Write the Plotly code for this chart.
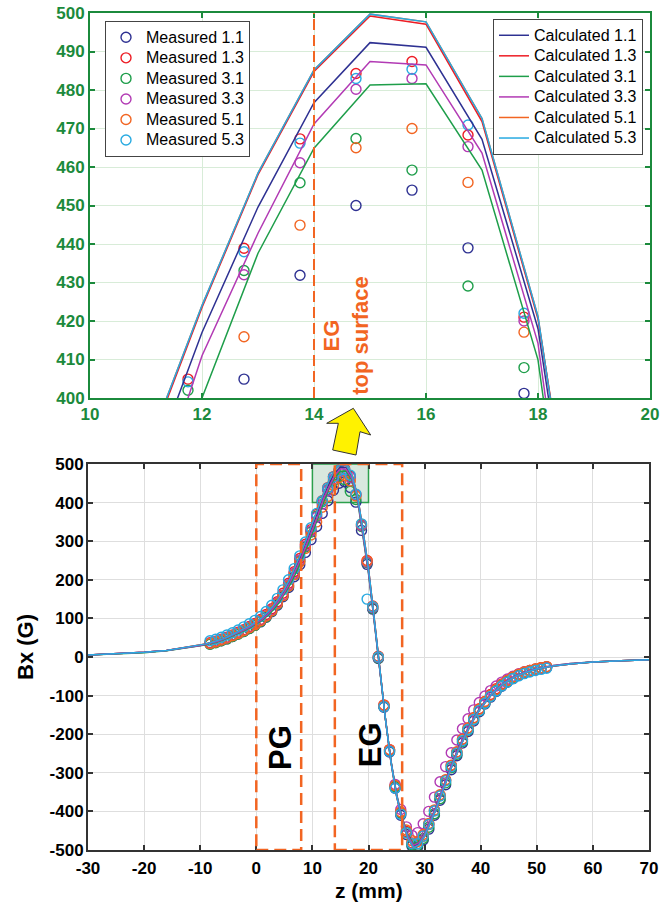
import plotly.graph_objects as go

# ---------------- data ----------------
series_names = ["1.1", "1.3", "3.1", "3.3", "5.1", "5.3"]
meas_colors = ["#2e3192", "#ed1c24", "#1e9e4a", "#b23ab4", "#f26522", "#27aae1"]
calc_colors = ["#2e3192", "#ed1c24", "#1e9e4a", "#b23ab4", "#f26522", "#27aae1"]

z_meas = [-8.25, -7.25, -6.25, -5.25, -4.25, -3.25, -2.25, -1.25, -0.25, 0.75,
          1.75, 2.75, 3.75, 4.75, 5.75, 6.75, 7.75, 8.75, 9.75, 10.75,
          11.75, 12.75, 13.75, 14.75, 15.75, 16.75, 17.75, 18.75, 19.75, 20.75,
          21.75, 22.75, 23.75, 24.75, 25.75, 26.75, 27.75, 28.75, 29.75, 30.75,
          31.75, 32.75, 33.75, 34.75, 35.75, 36.75, 37.75, 38.75, 39.75, 40.75,
          41.75, 42.75, 43.75, 44.75, 45.75, 46.75, 47.75, 48.75, 49.75, 50.75,
          51.75]

meas_11 = [34, 38, 42, 47, 53, 60, 66, 74, 82, 91, 103, 117, 134, 156, 180, 208, 239, 271, 304, 338,
           372, 404.9, 431.9, 450.0, 454.0, 439.0, 401.2,
           328, 240, 124, -4, -130, -246, -340, -410, -460, -490, -492, -474, -446, -410, -371, -331,
           -292, -256, -223, -193, -166, -142, -122, -104, -89, -76, -65, -56, -48, -42, -37, -33, -30, -27]
meas_13 = [37, 41, 46, 51, 57, 64, 71, 79, 87, 97, 110, 125, 143, 165, 191, 221, 255, 292, 330, 369,
           404.9, 438.9, 467.3, 484.3, 487.4, 468.3, 421.0,
           342, 250, 132, 2, -124, -240, -334, -403, -452, -482, -484, -464, -434, -398, -359, -319,
           -281, -246, -213, -184, -157, -134, -115, -97, -82, -70, -60, -51, -44, -39, -35, -31, -28, -25]
meas_31 = [33, 37, 42, 47, 53, 59, 66, 74, 82, 92, 104, 119, 137, 159, 184, 214, 248, 285, 324, 365,
           402.0, 433.1, 455.9, 467.4, 459.2, 429.1, 407.9,
           338, 244, 126, -3, -128, -243, -336, -405, -455, -486, -488, -470, -441, -406, -367, -326,
           -287, -252, -219, -189, -162, -139, -119, -101, -86, -73, -63, -54, -46, -40, -36, -32, -29, -26]
meas_33 = [36, 40, 45, 50, 56, 62, 69, 77, 85, 95, 107, 122, 140, 161, 187, 217, 251, 288, 326, 362,
           396, 432.0, 461.1, 480.2, 483.0, 465.3, 420.0,
           340, 246, 128, -1, -127, -241, -330, -395, -440, -462, -455, -432, -400, -363, -323, -284,
           -248, -215, -186, -160, -137, -118, -101, -87, -75, -65, -57, -50, -44, -39, -35, -32, -29, -26]
meas_51 = [35, 39, 44, 49, 55, 61, 68, 76, 84, 94, 106, 120, 138, 159, 184, 213, 246, 281, 316, 350,
           388, 415.9, 444.9, 465.0, 470.0, 456.0, 417.1,
           344, 249, 131, 1, -125, -240, -333, -401, -448, -476, -478, -460, -431, -396, -357, -318,
           -280, -246, -213, -184, -158, -135, -116, -99, -84, -71, -61, -52, -45, -39, -35, -31, -28, -25]
meas_53 = [42, 46, 51, 57, 63, 70, 78, 86, 95, 105, 118, 134, 152, 174, 200, 229, 262, 298, 335, 372,
           404.2, 438.0, 466.2, 483.0, 485.4, 470.9, 422.0,
           345, 150, 130, 0, -129, -245, -340, -407, -455, -484, -484, -464, -434, -399, -360, -321,
           -284, -249, -217, -188, -162, -139, -120, -102, -88, -75, -65, -56, -49, -43, -39, -35, -32, -29]

z_calc = [-30, -25, -20, -16, -13,
          -10, -9, -8, -7, -6, -5, -4, -3, -2, -1, 0, 1, 2, 3, 4, 5, 6, 7, 8, 9, 10,
          11, 12, 13, 14, 15, 16, 17, 18, 19, 20, 21, 22, 23, 24, 25, 26, 27, 28, 29, 30,
          31, 32, 33, 34, 35, 36, 37, 38, 39, 40,
          42, 44, 46, 48, 50, 53, 56, 60, 65, 70]

calc_11 = [5, 8, 12, 17, 23,
           30, 33, 37, 41, 46, 52, 58, 65, 72, 80, 88, 99, 112, 128, 147, 170, 197, 228, 263, 300, 339,
           378, 417, 449.6, 476.7, 492.3, 491.1, 467.2, 418, 322, 222, 98, -32, -158, -270, -357, -420, -465, -490, -483, -460,
           -428, -392, -352, -312, -275, -240, -208, -180, -154, -131,
           -95, -69, -51, -39, -31, -23, -18, -13, -10, -7]
calc_13 = [5, 8, 12, 17, 24,
           31, 34, 38, 42, 47, 53, 60, 67, 74, 82, 91, 102, 116, 132, 152, 175, 203, 235, 270, 308, 347,
           385.5, 423.5, 458.0, 484.8, 499.2, 497.1, 471.8, 420.5, 329, 228, 102, -30, -158, -272, -360, -424, -469, -494, -487, -464,
           -432, -396, -356, -316, -278, -243, -211, -182, -156, -133,
           -96, -70, -52, -40, -31, -23, -18, -13, -10, -7]
calc_31 = [5, 8, 11, 16, 22,
           29, 32, 35, 39, 44, 50, 56, 62, 69, 77, 85, 95, 107, 122, 140, 162, 187, 216, 249, 284, 321,
           358, 400, 437.6, 464.9, 481.3, 481.6, 459.2, 409.9, 314, 216, 94, -34, -158, -268, -354, -416, -460, -485, -479, -456,
           -425, -389, -349, -309, -272, -237, -205, -177, -152, -129,
           -94, -68, -50, -38, -30, -22, -17, -13, -10, -7]
calc_33 = [5, 8, 12, 17, 23,
           30, 33, 36, 40, 45, 51, 57, 64, 71, 79, 87, 97, 110, 126, 145, 167, 193, 223, 257, 293, 331,
           367, 411, 442.8, 471.2, 487.4, 486.5, 463.6, 414.2, 318, 219, 96, -33, -158, -269, -356, -418, -463, -488, -481, -458,
           -426, -390, -350, -310, -273, -238, -206, -178, -153, -130,
           -94, -68, -50, -38, -30, -22, -17, -13, -10, -7]
calc_51 = [5, 8, 12, 17, 24,
           31, 34, 38, 42, 47, 53, 60, 67, 74, 82, 91, 102, 116, 132, 152, 175, 203, 235, 270, 308, 347,
           386, 424, 458.4, 485.2, 499.7, 497.7, 472.6, 421.1, 330, 229, 103, -30, -158, -272, -360, -424, -469, -494, -487, -464,
           -432, -396, -356, -316, -278, -243, -211, -182, -156, -133,
           -96, -70, -52, -40, -31, -23, -18, -13, -10, -7]
calc_53 = [5, 8, 12, 17, 24,
           31, 34, 38, 42, 47, 53, 60, 67, 74, 82, 91, 102, 116, 132, 152, 175, 203, 235, 270, 308, 347,
           386, 424, 458.4, 485.2, 499.7, 497.7, 472.6, 421.1, 330, 229, 103, -30, -158, -272, -360, -424, -469, -494, -487, -464,
           -432, -396, -356, -316, -278, -243, -211, -182, -156, -133,
           -96, -70, -52, -40, -31, -23, -18, -13, -10, -7]

top_x_ticks = [10, 12, 14, 16, 18, 20]
top_y_ticks = [400, 410, 420, 430, 440, 450, 460, 470, 480, 490, 500]
bot_x_ticks = [-30, -20, -10, 0, 10, 20, 30, 40, 50, 60, 70]
bot_y_ticks = [-500, -400, -300, -200, -100, 0, 100, 200, 300, 400, 500]

meas_all = [meas_11, meas_13, meas_31, meas_33, meas_51, meas_53]
calc_all = [calc_11, calc_13, calc_31, calc_33, calc_51, calc_53]

# ---------------- figure ----------------
W, H = 668, 902
ML, MR, MT, MB = 88, 18, 13, 52
PW, PH = W - ML - MR, H - MT - MB

def px2paper(px, py):
    return (px - ML) / PW, (H - MB - py) / PH

def bold(vals):
    return ["<b>%s</b>" % v for v in vals]

def big(txt):
    return "<span style='font-size:16px'>%s</span>" % txt

FONT = "Liberation Sans, Arial, sans-serif"
GREEN = "#1b8a3c"
ORANGE = "#f26522"

fig = go.Figure()

for i, nm in enumerate(series_names):
    for ax, ay, show in (("x2", "y2", True), ("x", "y", False)):
        fig.add_trace(go.Scatter(
            x=z_meas, y=meas_all[i], mode="markers", name=big("Measured " + nm),
            xaxis=ax, yaxis=ay, showlegend=show, legend="legend",
            marker=dict(symbol="circle-open", size=10, color=meas_colors[i],
                        line=dict(width=1.4, color=meas_colors[i]))))

draw_order = [4, 0, 1, 2, 3, 5]
for i in draw_order:
    nm = series_names[i]
    for ax, ay, show in (("x2", "y2", True), ("x", "y", False)):
        fig.add_trace(go.Scatter(
            x=z_calc, y=calc_all[i], mode="lines", name=big("Calculated " + nm),
            xaxis=ax, yaxis=ay, showlegend=show, legend="legend2",
            legendrank=100 + i,
            line=dict(width=1.5, color=calc_colors[i])))

top_dom_x = [px2paper(90, 0)[0], 1.0]
top_dom_y = [px2paper(0, 398)[1], 1.0]
bot_dom_x = [0.0, px2paper(649, 0)[0]]
bot_dom_y = [0.0, px2paper(0, 464)[1]]

tickfont_top = dict(family=FONT, size=17, color=GREEN)
tickfont_bot = dict(family=FONT, size=17, color="black")

common = dict(showgrid=True, gridwidth=1, zeroline=False, showline=True, linewidth=2,
              mirror="ticks", ticks="inside", ticklen=5, tickwidth=1.5)

fig.update_layout(
    width=W, height=H, margin=dict(l=ML, r=MR, t=MT, b=MB, autoexpand=False),
    paper_bgcolor="white", plot_bgcolor="white",
    font=dict(family=FONT),
    xaxis2=dict(domain=top_dom_x, anchor="y2", range=[10, 20], tickmode="array",
                tickvals=top_x_ticks, ticktext=bold(top_x_ticks),
                gridcolor="#d8ecd8", linecolor=GREEN, tickcolor=GREEN,
                tickfont=tickfont_top, ticklabelstandoff=0, **common),
    yaxis2=dict(domain=top_dom_y, anchor="x2", range=[400, 500], tickmode="array",
                tickvals=top_y_ticks, ticktext=bold(top_y_ticks),
                gridcolor="#d8ecd8", linecolor=GREEN, tickcolor=GREEN,
                tickfont=tickfont_top, ticklabelstandoff=0, **common),
    xaxis=dict(domain=bot_dom_x, anchor="y", range=[-30, 70], tickmode="array",
               tickvals=bot_x_ticks, ticktext=bold(bot_x_ticks),
               gridcolor="#dedede", linecolor="#333333", tickcolor="#333333",
               tickfont=tickfont_bot, ticklabelstandoff=2, **common),
    yaxis=dict(domain=bot_dom_y, anchor="x", range=[-500, 500], tickmode="array",
               tickvals=bot_y_ticks, ticktext=bold(bot_y_ticks),
               gridcolor="#dedede", linecolor="#333333", tickcolor="#333333",
               tickfont=tickfont_bot, ticklabelstandoff=-1, **common),
    legend=dict(x=px2paper(105, 0)[0], y=px2paper(0, 21)[1], xanchor="left", yanchor="top",
                bgcolor="white", bordercolor="#444444", borderwidth=1,
                font=dict(family=FONT, size=13.5, color="black"), itemwidth=30, tracegroupgap=0),
    legend2=dict(x=px2paper(643, 0)[0], y=px2paper(0, 19)[1], xanchor="right", yanchor="top",
                 bgcolor="white", bordercolor="#444444", borderwidth=1,
                 font=dict(family=FONT, size=13.5, color="black"), itemwidth=30, tracegroupgap=0),
)

shapes = []
shapes.append(dict(type="rect", xref="x", yref="y", x0=10, x1=20, y0=400, y1=500,
                   line=dict(color="#2ca04c", width=1.5), fillcolor="rgba(40,130,70,0.18)",
                   layer="between"))
shapes.append(dict(type="line", xref="x2", yref="y2", x0=14, x1=14, y0=400, y1=500,
                   line=dict(color=ORANGE, width=2, dash="11px,5px")))
for x0, x1 in ((0, 8), (14, 26)):
    shapes.append(dict(type="rect", xref="x", yref="y", x0=x0, x1=x1, y0=-500, y1=500,
                       line=dict(color=ORANGE, width=2.5, dash="12px,6px"), layer="above"))
arrow_px = [(353.3, 408.3), (370.7, 435), (360, 431.7), (356, 455), (332.7, 450), (338.3, 423.3), (326.7, 423.3)]
pts = [px2paper(a, b) for a, b in arrow_px]
path = "M " + " L ".join(f"{a:.4f},{b:.4f}" for a, b in pts) + " Z"
shapes.append(dict(type="path", xref="paper", yref="paper", path=path,
                   fillcolor="#fff200", line=dict(color="#333333", width=1)))
fig.update_layout(shapes=shapes)

ann = []
ann.append(dict(xref="x2", yref="y2", x=14.57, y=416.4, text="<b>EG<br>top surface</b>", textangle=-90,
                showarrow=False, font=dict(family=FONT, size=22, color=ORANGE)))
ann.append(dict(xref="x", yref="y", x=4.4, y=-233, text="<b>PG</b>", textangle=-90, showarrow=False,
                font=dict(family=FONT, size=31, color="black")))
ann.append(dict(xref="x", yref="y", x=20.3, y=-228, text="<b>EG</b>", textangle=-90, showarrow=False,
                font=dict(family=FONT, size=31, color="black")))
zx, zy = px2paper(368.5, 890)
ann.append(dict(xref="paper", yref="paper", x=zx, y=zy, xanchor="center", yanchor="middle",
                text="<b>z (mm)</b>", showarrow=False,
                font=dict(family=FONT, size=21, color="black")))
bx, by = px2paper(25, 647)
ann.append(dict(xref="paper", yref="paper", x=bx, y=by, xanchor="center", yanchor="middle",
                text="<b>Bx (G)</b>", textangle=-90, showarrow=False,
                font=dict(family=FONT, size=22, color="black")))
fig.update_layout(annotations=ann)

fig.write_html("out.html", config={"displayModeBar": False},
               post_script="document.body.style.margin='0';")
